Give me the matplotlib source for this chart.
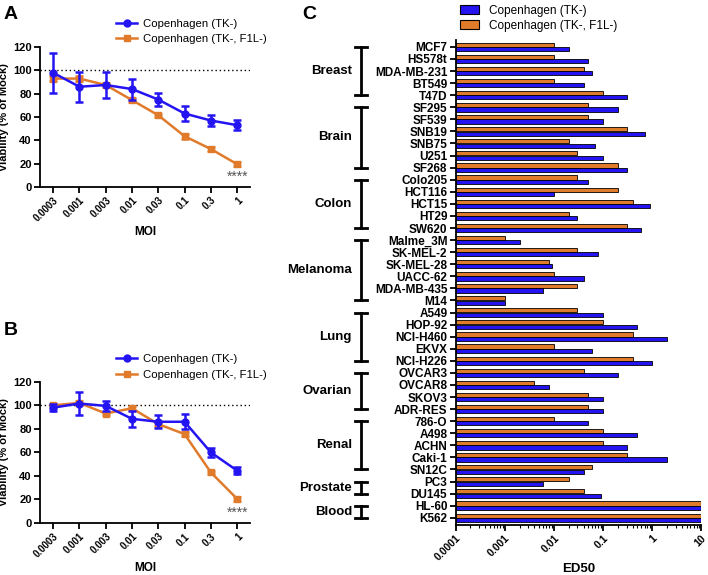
import matplotlib
matplotlib.use('Agg')
import matplotlib.pyplot as plt
import matplotlib.transforms as mtransforms
from matplotlib.patches import Patch
from matplotlib.lines import Line2D
import numpy as np

plt.rcParams['font.family'] = ['Liberation Sans', 'DejaVu Sans']

BLUE = '#2414f2'
ORANGE = '#e07b2c'

# ---- panels A and B: viability vs MOI
moi = ['0.0003', '0.001', '0.003', '0.01', '0.03', '0.1', '0.3', '1']

a_tk = [98, 86, 87.5, 84, 75, 63, 57, 53]
a_tk_err = [17, 13, 11.5, 9, 5.5, 6.5, 5, 4.5]
a_f1l = [93, 93, 87.5, 74.5, 61.5, 43.5, 32.5, 19.5]
a_f1l_err = [2, 2, 1.5, 1.5, 1.5, 2, 2, 1.5]

b_tk = [98, 101.5, 99.5, 88.5, 86, 86, 60, 44.5]
b_tk_err = [3, 9.5, 4, 7, 5.5, 6.5, 4, 3]
b_f1l = [100, 102, 93, 97.5, 84, 75.5, 43, 20.5]
b_f1l_err = [1.5, 2, 1.5, 1.5, 1.5, 1.5, 1.5, 1.5]

# ---- panel C: ED50 per cell line
cell_lines = ['MCF7', 'HS578t', 'MDA-MB-231', 'BT549', 'T47D',
              'SF295', 'SF539', 'SNB19', 'SNB75', 'U251', 'SF268',
              'Colo205', 'HCT116', 'HCT15', 'HT29', 'SW620',
              'Malme_3M', 'SK-MEL-2', 'SK-MEL-28', 'UACC-62', 'MDA-MB-435', 'M14',
              'A549', 'HOP-92', 'NCI-H460', 'EKVX', 'NCI-H226',
              'OVCAR3', 'OVCAR8', 'SKOV3', 'ADR-RES',
              '786-O', 'A498', 'ACHN', 'Caki-1', 'SN12C',
              'PC3', 'DU145',
              'HL-60', 'K562']
ed50_tk = [0.02, 0.05, 0.06, 0.04, 0.3,
           0.2, 0.1, 0.7, 0.07, 0.1, 0.3,
           0.05, 0.01, 0.9, 0.03, 0.6,
           0.002, 0.08, 0.009, 0.04, 0.006, 0.001,
           0.1, 0.5, 2.0, 0.06, 1.0,
           0.2, 0.008, 0.1, 0.1,
           0.05, 0.5, 0.3, 2.0, 0.04,
           0.006, 0.09,
           10, 10]
ed50_f1l = [0.01, 0.01, 0.04, 0.01, 0.1,
            0.05, 0.05, 0.3, 0.02, 0.03, 0.2,
            0.03, 0.2, 0.4, 0.02, 0.3,
            0.001, 0.03, 0.008, 0.01, 0.03, 0.001,
            0.03, 0.1, 0.4, 0.01, 0.4,
            0.04, 0.004, 0.05, 0.05,
            0.01, 0.1, 0.1, 0.3, 0.06,
            0.02, 0.04,
            10, 10]
groups = [('Breast', 0, 4), ('Brain', 5, 10), ('Colon', 11, 15),
          ('Melanoma', 16, 21), ('Lung', 22, 26), ('Ovarian', 27, 30),
          ('Renal', 31, 35), ('Prostate', 36, 37), ('Blood', 38, 39)]
ed50_ticks = [1e-4, 1e-3, 1e-2, 1e-1, 1, 10]
ed50_ticklabels = ['0.0001', '0.001', '0.01', '0.1', '1', '10']

fig = plt.figure(figsize=(7.08, 5.75), dpi=100)


def viability_panel(rect, tk, tk_err, f1l, f1l_err, legend_y):
    ax = fig.add_axes(rect)
    x = np.arange(len(moi))
    ax.errorbar(x, f1l, yerr=f1l_err, color=ORANGE, marker='s', ms=5,
                lw=1.8, capsize=3, capthick=1.8, elinewidth=1.8, zorder=3)
    ax.errorbar(x, tk, yerr=tk_err, color=BLUE, marker='o', ms=5,
                lw=1.8, capsize=3, capthick=1.8, elinewidth=1.8, zorder=4)
    ax.axhline(100, color='black', ls=(0, (1, 2)), lw=1, zorder=1)
    ax.set_xlim(-0.5, len(moi) - 0.5)
    ax.set_ylim(0, 120)
    ax.set_yticks(range(0, 121, 20))
    ax.set_xticks(x)
    ax.set_xticklabels(moi, rotation=45, ha='right', rotation_mode='anchor',
                       fontsize=7, fontweight='bold')
    for t in ax.get_yticklabels():
        t.set_fontsize(8)
        t.set_fontweight('bold')
    ax.spines['top'].set_visible(False)
    ax.spines['right'].set_visible(False)
    ax.spines['left'].set_linewidth(1.3)
    ax.spines['bottom'].set_linewidth(1.3)
    ax.tick_params(width=1.3, length=4, pad=2)
    ax.set_xlabel('MOI', fontsize=8.5, fontweight='bold', labelpad=2)
    ax.set_ylabel('Viability (% of Mock)', fontsize=8, fontweight='bold',
                  labelpad=3)
    ax.text(len(moi) - 1, 9, '****', ha='center', va='center',
            fontsize=10, color='#555555')
    handles = [Line2D([], [], color=BLUE, marker='o', ms=5, lw=1.8),
               Line2D([], [], color=ORANGE, marker='s', ms=5, lw=1.8)]
    fig.legend(handles, ['Copenhagen (TK-)', 'Copenhagen (TK-, F1L-)'],
               loc='center left', bbox_to_anchor=(0.15, legend_y),
               frameon=False, fontsize=8.2, handlelength=1.8,
               handletextpad=0.5, labelspacing=0.5)
    return ax


viability_panel([0.0565, 0.675, 0.297, 0.243], a_tk, a_tk_err, a_f1l,
                a_f1l_err, 0.945)
viability_panel([0.0565, 0.0904, 0.297, 0.2457], b_tk, b_tk_err, b_f1l,
                b_f1l_err, 0.362)

# ---- panel C
axc = fig.add_axes([0.6436, 0.087, 0.347, 0.844])
y = np.arange(len(cell_lines))
h = 0.34
axc.barh(y - 0.18, np.array(ed50_f1l) - 1e-4, left=1e-4, height=h,
         color=ORANGE, edgecolor='black', linewidth=0.6)
axc.barh(y + 0.18, np.array(ed50_tk) - 1e-4, left=1e-4, height=h,
         color=BLUE, edgecolor='black', linewidth=0.6)
axc.set_xscale('log')
axc.set_xlim(1e-4, 10)
axc.set_ylim(len(cell_lines) - 0.4, -0.6)
axc.set_yticks(y)
axc.set_yticklabels(cell_lines, fontsize=8.5, fontweight='bold')
axc.set_xticks(ed50_ticks)
axc.set_xticklabels(ed50_ticklabels, rotation=45, ha='right',
                    rotation_mode='anchor', fontsize=7.5, fontweight='bold')
axc.xaxis.set_minor_locator(matplotlib.ticker.LogLocator(base=10,
                                                         subs=np.arange(2, 10)))
axc.xaxis.set_minor_formatter(matplotlib.ticker.NullFormatter())
axc.spines['top'].set_visible(False)
axc.spines['right'].set_visible(False)
axc.spines['left'].set_linewidth(1.3)
axc.spines['bottom'].set_linewidth(1.3)
axc.tick_params(which='major', width=1.3, length=4, pad=2)
axc.tick_params(which='minor', width=0.8, length=2.5)
axc.set_xlabel('ED50', fontsize=9.5, fontweight='bold', labelpad=0)

trans = mtransforms.blended_transform_factory(axc.transAxes, axc.transData)
for name, i0, i1 in groups:
    axc.plot([-0.385, -0.385], [i0, i1], color='black', lw=2,
             transform=trans, clip_on=False)
    for yy in (i0, i1):
        axc.plot([-0.41, -0.36], [yy, yy], color='black', lw=2,
                 transform=trans, clip_on=False)
    axc.text(-0.422, (i0 + i1) / 2, name, transform=trans, ha='right',
             va='center', fontsize=9.5, fontweight='bold')

fig.legend([Patch(facecolor=BLUE, edgecolor='black', linewidth=0.8),
            Patch(facecolor=ORANGE, edgecolor='black', linewidth=0.8)],
           ['Copenhagen (TK-)', 'Copenhagen (TK-, F1L-)'],
           loc='center left', bbox_to_anchor=(0.635, 0.968), frameon=False,
           fontsize=8.5, handlelength=1.6, handleheight=0.8,
           handletextpad=0.8, labelspacing=0.25)

fig.text(0.005, 0.975, 'A', fontsize=14, fontweight='bold', va='center')
fig.text(0.005, 0.425, 'B', fontsize=14, fontweight='bold', va='center')
fig.text(0.427, 0.975, 'C', fontsize=14, fontweight='bold', va='center')

fig.savefig('out.png', dpi=100)
